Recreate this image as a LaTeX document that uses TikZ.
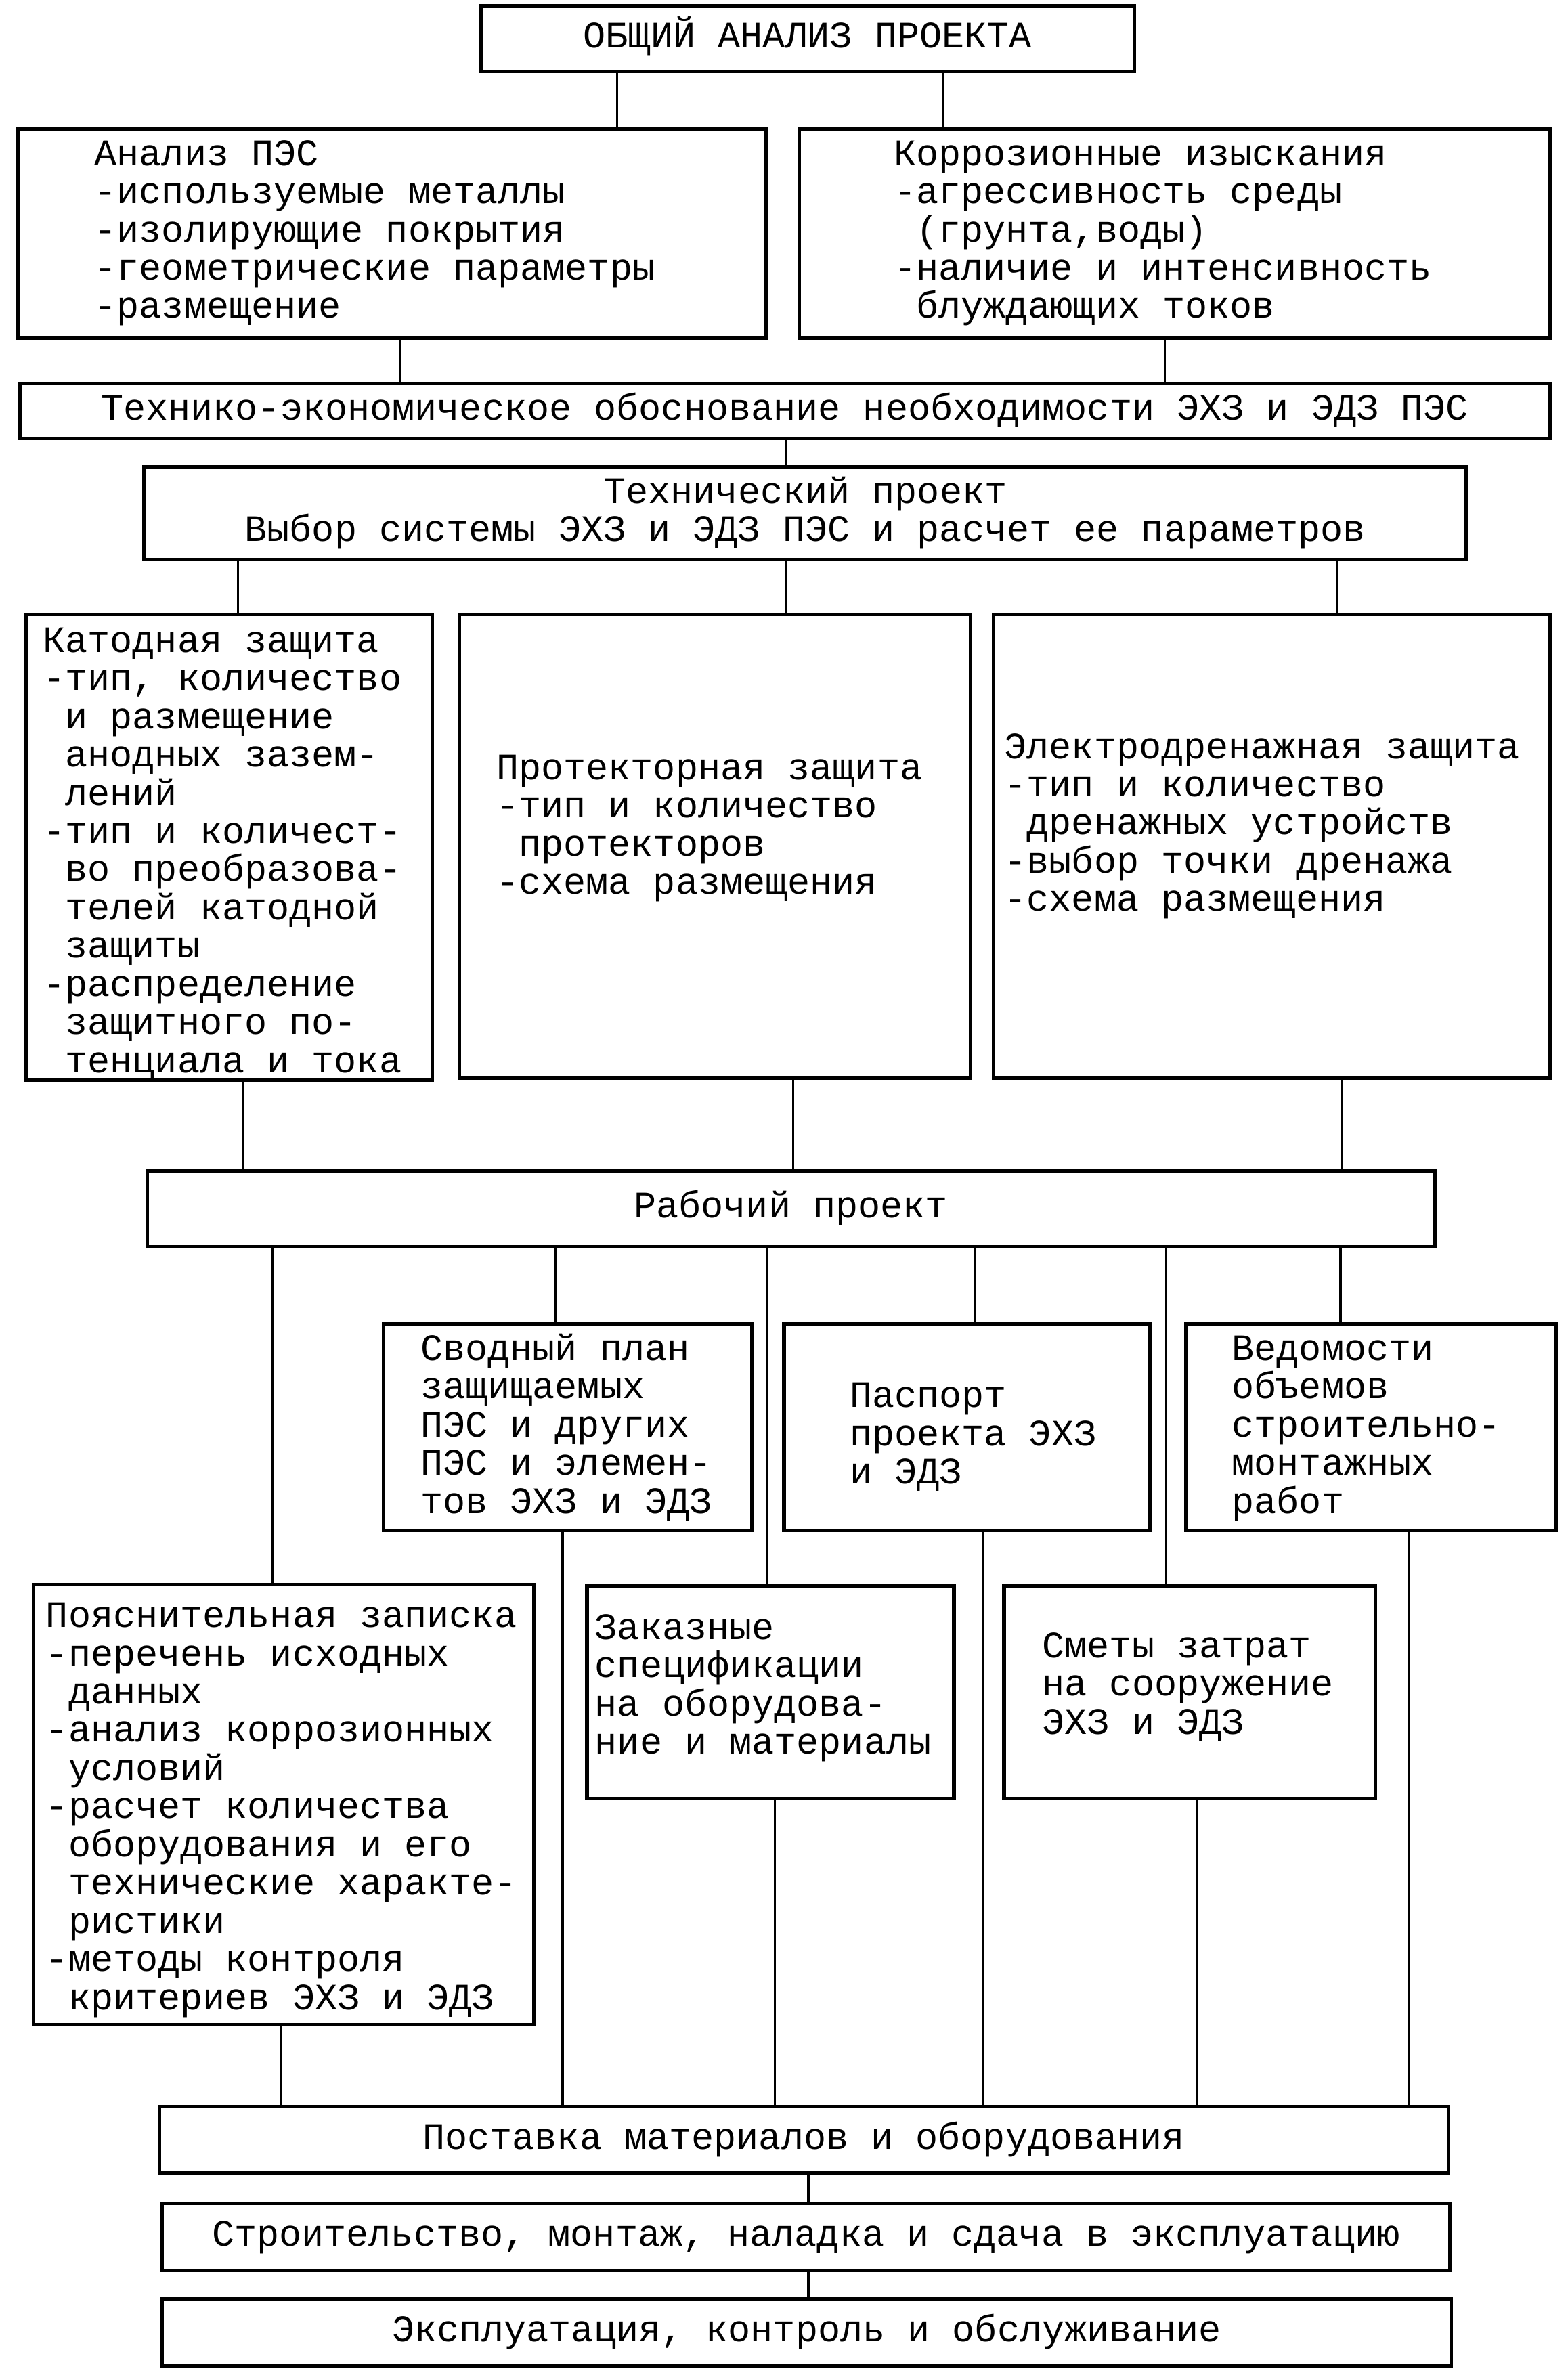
\documentclass[tikz,border=0pt]{standalone}
\usepackage{fontspec}
\newfontfamily\mono{Liberation Mono}
\usetikzlibrary{fit}
\newcommand\fnt{\mono\fontsize{15.7pt}{16.06pt}\selectfont}
\newcommand\ind{\hphantom{0}}
\newcommand\txtlines[4]{\foreach \t [count=\i] in {#4} {\node[txt] (#1-\i) at (#2,{#3+25.2*(\i-1)}) {\t};}}
\begin{document}
\begin{tikzpicture}[x=0.0224cm,y=-0.0224cm,
  box/.style={draw, line width=1.5pt, inner sep=0pt},
  txt/.style={anchor=base west, inner sep=0pt, font=\fnt},
  ctext/.style={anchor=base, inner sep=0pt, font=\fnt, yshift=-0.134cm},
  link/.style={line width=1pt}]
\path[use as bounding box] (0,0) rectangle (1033.48,1564.73);

% --- top part
\node[box, fit={(317,4)(748,47)}] (top) {};
\node[ctext] (top-t) at (top.center) {ОБЩИЙ АНАЛИЗ ПРОЕКТА};

\node[box, fit={(12,85)(505,223)}] (anl) {};
\txtlines{anlt}{62}{109}{Анализ ПЭС,-используемые металлы,-изолирующие покрытия,-геометрические параметры,-размещение}

\node[box, fit={(527,85)(1022,223)}] (kor) {};
\txtlines{kort}{589}{109}{Коррозионные изыскания,-агрессивность среды,{\ind(грунта,воды)},-наличие и интенсивность,\ind блуждающих токов}

\node[box, fit={(13,253)(1022,289)}] (teo) {};
\node[ctext] (teo-t) at (teo.center) {Технико-экономическое обоснование необходимости ЭХЗ и ЭДЗ ПЭС};

\node[box, fit={(95,308)(967,369)}] (tech) {};
\node[ctext, yshift=0.282cm] (tech-t1) at (tech.center) {Технический проект};
\node[ctext, yshift=-0.283cm] (tech-t2) at (tech.center) {Выбор системы ЭХЗ и ЭДЗ ПЭС и расчет ее параметров};

% --- three protection boxes
\node[box, fit={(17,405)(285,712)}] (kat) {};
\txtlines{katt}{28}{430}{Катодная защита,{-тип, количество},\ind и размещение,\ind анодных зазем-,\ind лений,-тип и количест-,\ind во преобразова-,\ind телей катодной,\ind защиты,-распределение,\ind защитного по-,\ind тенциала и тока}

\node[box, fit={(303,405)(640,711)}] (prot) {};
\txtlines{prott}{327}{514}{Протекторная защита,-тип и количество,\ind протекторов,-схема размещения}

\node[box, fit={(655,405)(1022,711)}] (elec) {};
\txtlines{elect}{662}{500}{Электродренажная защита,-тип и количество,\ind дренажных устройств,-выбор точки дренажа,-схема размещения}

% --- working project
\node[box, fit={(97,772)(946,822)}] (rab) {};
\node[ctext] (rab-t) at (rab.center) {Рабочий проект};

\node[box, fit={(253,873)(496,1009)}] (svod) {};
\txtlines{svodt}{277}{897}{Сводный план,защищаемых,ПЭС и других,ПЭС и элемен-,тов ЭХЗ и ЭДЗ}

\node[box, fit={(517,873)(758,1009)}] (pasp) {};
\txtlines{paspt}{560}{928}{Паспорт,проекта ЭХЗ,и ЭДЗ}

\node[box, fit={(782,873)(1026,1009)}] (ved) {};
\txtlines{vedt}{812}{897}{Ведомости,объемов,строительно-,монтажных,работ}

\node[box, fit={(22,1045)(352,1335)}] (poya) {};
\txtlines{poyat}{30}{1073}{Пояснительная записка,-перечень исходных,\ind данных,-анализ коррозионных,\ind условий,-расчет количества,\ind оборудования и его,\ind технические характе-,\ind ристики,-методы контроля,\ind критериев ЭХЗ и ЭДЗ}

\node[box, fit={(387,1046)(629,1186)}] (zak) {};
\txtlines{zakt}{392}{1081}{Заказные,спецификации,на оборудова-,ние и материалы}

\node[box, fit={(662,1046)(907,1186)}] (smet) {};
\txtlines{smett}{687}{1093}{Сметы затрат,на сооружение,ЭХЗ и ЭДЗ}

% --- bottom
\node[box, fit={(105,1389)(955,1433)}] (post) {};
\node[ctext] (post-t) at (post.center) {Поставка материалов и оборудования};
\node[box, fit={(107,1453)(956,1497)}] (stroi) {};
\node[ctext] (stroi-t) at (stroi.center) {Строительство, монтаж, наладка и сдача в эксплуатацию};
\node[box, fit={(107,1516)(957,1560)}] (expl) {};
\node[ctext] (expl-t) at (expl.center) {Эксплуатация, контроль и обслуживание};

% --- connectors
\draw[link] (407,0 |- top.south) -- (407,0 |- anl.north);
\draw[link] (622,0 |- top.south) -- (622,0 |- kor.north);
\draw[link] (264,0 |- anl.south) -- (264,0 |- teo.north);
\draw[link] (768,0 |- kor.south) -- (768,0 |- teo.north);
\draw[link] (518,0 |- teo.south) -- (518,0 |- tech.north);
\draw[link] (157,0 |- tech.south) -- (157,0 |- kat.north);
\draw[link] (518,0 |- tech.south) -- (518,0 |- prot.north);
\draw[link] (882,0 |- tech.south) -- (882,0 |- elec.north);
\draw[link] (160,0 |- kat.south) -- (160,0 |- rab.north);
\draw[link] (523,0 |- prot.south) -- (523,0 |- rab.north);
\draw[link] (885,0 |- elec.south) -- (885,0 |- rab.north);
\draw[link] (180,0 |- rab.south) -- (180,0 |- poya.north);
\draw[link] (366,0 |- rab.south) -- (366,0 |- svod.north);
\draw[link] (506,0 |- rab.south) -- (506,0 |- zak.north);
\draw[link] (643,0 |- rab.south) -- (643,0 |- pasp.north);
\draw[link] (769,0 |- rab.south) -- (769,0 |- smet.north);
\draw[link] (884,0 |- rab.south) -- (884,0 |- ved.north);
\draw[link] (185,0 |- poya.south) -- (185,0 |- post.north);
\draw[link] (371,0 |- svod.south) -- (371,0 |- post.north);
\draw[link] (511,0 |- zak.south) -- (511,0 |- post.north);
\draw[link] (648,0 |- pasp.south) -- (648,0 |- post.north);
\draw[link] (789,0 |- smet.south) -- (789,0 |- post.north);
\draw[link] (929,0 |- ved.south) -- (929,0 |- post.north);
\draw[link] (533,0 |- post.south) -- (533,0 |- stroi.north);
\draw[link] (533,0 |- stroi.south) -- (533,0 |- expl.north);
\end{tikzpicture}
\end{document}
